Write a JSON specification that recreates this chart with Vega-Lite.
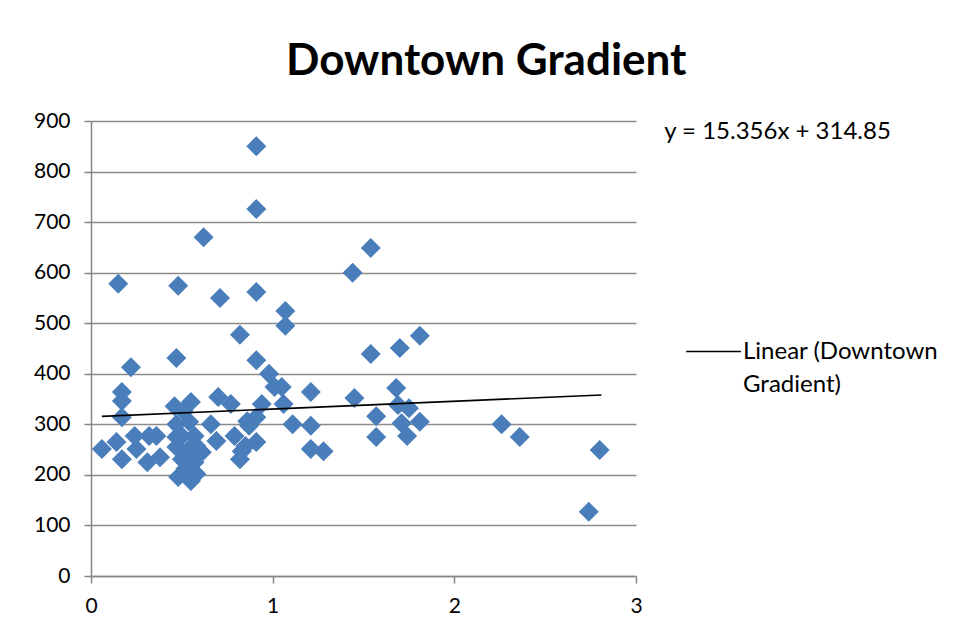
{
  "$schema": "https://vega.github.io/schema/vega-lite/v6.json",
  "width": 545,
  "height": 455,
  "padding": {"left": 33, "top": 40, "right": 5, "bottom": 5},
  "background": "white",
  "title": {"text": "Downtown Gradient", "font": "Lato", "fontSize": 44, "fontWeight": "bold", "color": "black", "anchor": "middle", "frame": "bounds", "offset": 26},
  "config": {
    "view": {"stroke": null},
    "font": "Lato",
    "style": {"guide-label": {"lineHeight": 33}}
  },
  "datasets": {
    "points": [
      {"gradient": 0.91, "price": 850}, {"gradient": 0.91, "price": 726}, {"gradient": 0.62, "price": 670},
      {"gradient": 0.15, "price": 578}, {"gradient": 0.48, "price": 574}, {"gradient": 0.71, "price": 550},
      {"gradient": 0.91, "price": 562}, {"gradient": 1.07, "price": 524}, {"gradient": 1.07, "price": 495},
      {"gradient": 1.44, "price": 600}, {"gradient": 1.54, "price": 649},
      {"gradient": 0.82, "price": 477}, {"gradient": 0.22, "price": 413}, {"gradient": 0.47, "price": 431},
      {"gradient": 0.91, "price": 427}, {"gradient": 0.98, "price": 400}, {"gradient": 1.01, "price": 374},
      {"gradient": 1.05, "price": 374}, {"gradient": 1.21, "price": 364}, {"gradient": 1.54, "price": 439},
      {"gradient": 1.70, "price": 451}, {"gradient": 1.81, "price": 475}, {"gradient": 1.68, "price": 372},
      {"gradient": 0.17, "price": 364}, {"gradient": 0.17, "price": 346}, {"gradient": 0.70, "price": 354},
      {"gradient": 0.77, "price": 340}, {"gradient": 0.94, "price": 340}, {"gradient": 1.06, "price": 340},
      {"gradient": 0.55, "price": 344}, {"gradient": 0.46, "price": 336}, {"gradient": 1.45, "price": 352},
      {"gradient": 1.69, "price": 338}, {"gradient": 1.75, "price": 332}, {"gradient": 1.57, "price": 316},
      {"gradient": 1.71, "price": 302}, {"gradient": 1.81, "price": 305}, {"gradient": 1.57, "price": 275},
      {"gradient": 1.74, "price": 277}, {"gradient": 1.11, "price": 300}, {"gradient": 1.21, "price": 297},
      {"gradient": 1.21, "price": 251}, {"gradient": 1.28, "price": 247}, {"gradient": 2.26, "price": 300},
      {"gradient": 2.36, "price": 275}, {"gradient": 2.80, "price": 249}, {"gradient": 2.74, "price": 127},
      {"gradient": 0.06, "price": 251}, {"gradient": 0.17, "price": 314}, {"gradient": 0.14, "price": 265},
      {"gradient": 0.17, "price": 231}, {"gradient": 0.24, "price": 277}, {"gradient": 0.25, "price": 251},
      {"gradient": 0.32, "price": 277}, {"gradient": 0.36, "price": 277}, {"gradient": 0.31, "price": 225},
      {"gradient": 0.38, "price": 235},
      {"gradient": 0.51, "price": 326}, {"gradient": 0.47, "price": 300}, {"gradient": 0.54, "price": 305},
      {"gradient": 0.50, "price": 277}, {"gradient": 0.57, "price": 277}, {"gradient": 0.47, "price": 255},
      {"gradient": 0.54, "price": 251}, {"gradient": 0.58, "price": 257}, {"gradient": 0.50, "price": 231},
      {"gradient": 0.57, "price": 225}, {"gradient": 0.48, "price": 196}, {"gradient": 0.55, "price": 188},
      {"gradient": 0.58, "price": 202}, {"gradient": 0.61, "price": 245}, {"gradient": 0.52, "price": 212},
      {"gradient": 0.47, "price": 275},
      {"gradient": 0.66, "price": 300}, {"gradient": 0.69, "price": 267}, {"gradient": 0.79, "price": 277},
      {"gradient": 0.82, "price": 231}, {"gradient": 0.85, "price": 257}, {"gradient": 0.91, "price": 265},
      {"gradient": 0.86, "price": 306}, {"gradient": 0.91, "price": 314}, {"gradient": 0.87, "price": 297},
      {"gradient": 0.83, "price": 247}
    ],
    "trend": [
      {"gradient": 0.06, "price": 315.77, "series": "Linear (Downtown Gradient)"},
      {"gradient": 2.81, "price": 358.00, "series": "Linear (Downtown Gradient)"}
    ],
    "equation": [
      {"label": "y = 15.356x + 314.85"}
    ]
  },
  "layer": [
    {
      "data": {"name": "points"},
      "mark": {"type": "point", "shape": "diamond", "filled": true, "size": 400, "color": "#4a7ebb", "opacity": 1},
      "encoding": {
        "x": {"field": "gradient", "type": "quantitative",
          "scale": {"domain": [0, 3], "nice": false, "zero": false},
          "axis": {"title": null, "values": [0, 1, 2, 3], "format": "d", "grid": false, "tickSize": 7, "labelPadding": 12,
            "labelFlush": false,
            "domainColor": "#868686", "domainWidth": 1.5, "tickColor": "#868686", "tickWidth": 1.5,
            "labelFontSize": 21, "labelColor": "black", "labelFont": "Lato"}},
        "y": {"field": "price", "type": "quantitative",
          "scale": {"domain": [0, 900], "nice": false},
          "axis": {"title": null, "values": [0, 100, 200, 300, 400, 500, 600, 700, 800, 900], "grid": true,
            "gridColor": "#8c8c8c", "gridWidth": 1.5, "tickSize": 7, "labelPadding": 14,
            "domainColor": "#868686", "domainWidth": 1.5, "tickColor": "#868686", "tickWidth": 1.5,
            "labelFontSize": 21, "labelColor": "black", "labelFont": "Lato"}}
      }
    },
    {
      "data": {"name": "trend"},
      "mark": {"type": "line", "strokeWidth": 1.6},
      "encoding": {
        "x": {"field": "gradient", "type": "quantitative"},
        "y": {"field": "price", "type": "quantitative"},
        "color": {"field": "series", "type": "nominal",
          "scale": {"domain": ["Linear (Downtown Gradient)"], "range": ["black"]},
          "legend": {"title": null, "orient": "none", "legendX": 594, "legendY": 202,
            "labelExpr": "['Linear (Downtown', 'Gradient)']", "labelLimit": 400,
            "labelFont": "Lato", "labelFontSize": 24, "labelColor": "black", "labelOffset": 1,
            "symbolType": "stroke", "symbolSize": 3000, "symbolStrokeWidth": 1.6, "symbolStrokeColor": "black"}}
      }
    },
    {
      "data": {"name": "equation"},
      "mark": {"type": "text", "align": "left", "baseline": "middle", "font": "Lato", "fontSize": 24, "color": "black"},
      "encoding": {
        "x": {"datum": 3.155, "type": "quantitative"},
        "y": {"datum": 878, "type": "quantitative"},
        "text": {"field": "label", "type": "nominal"}
      }
    }
  ]
}
